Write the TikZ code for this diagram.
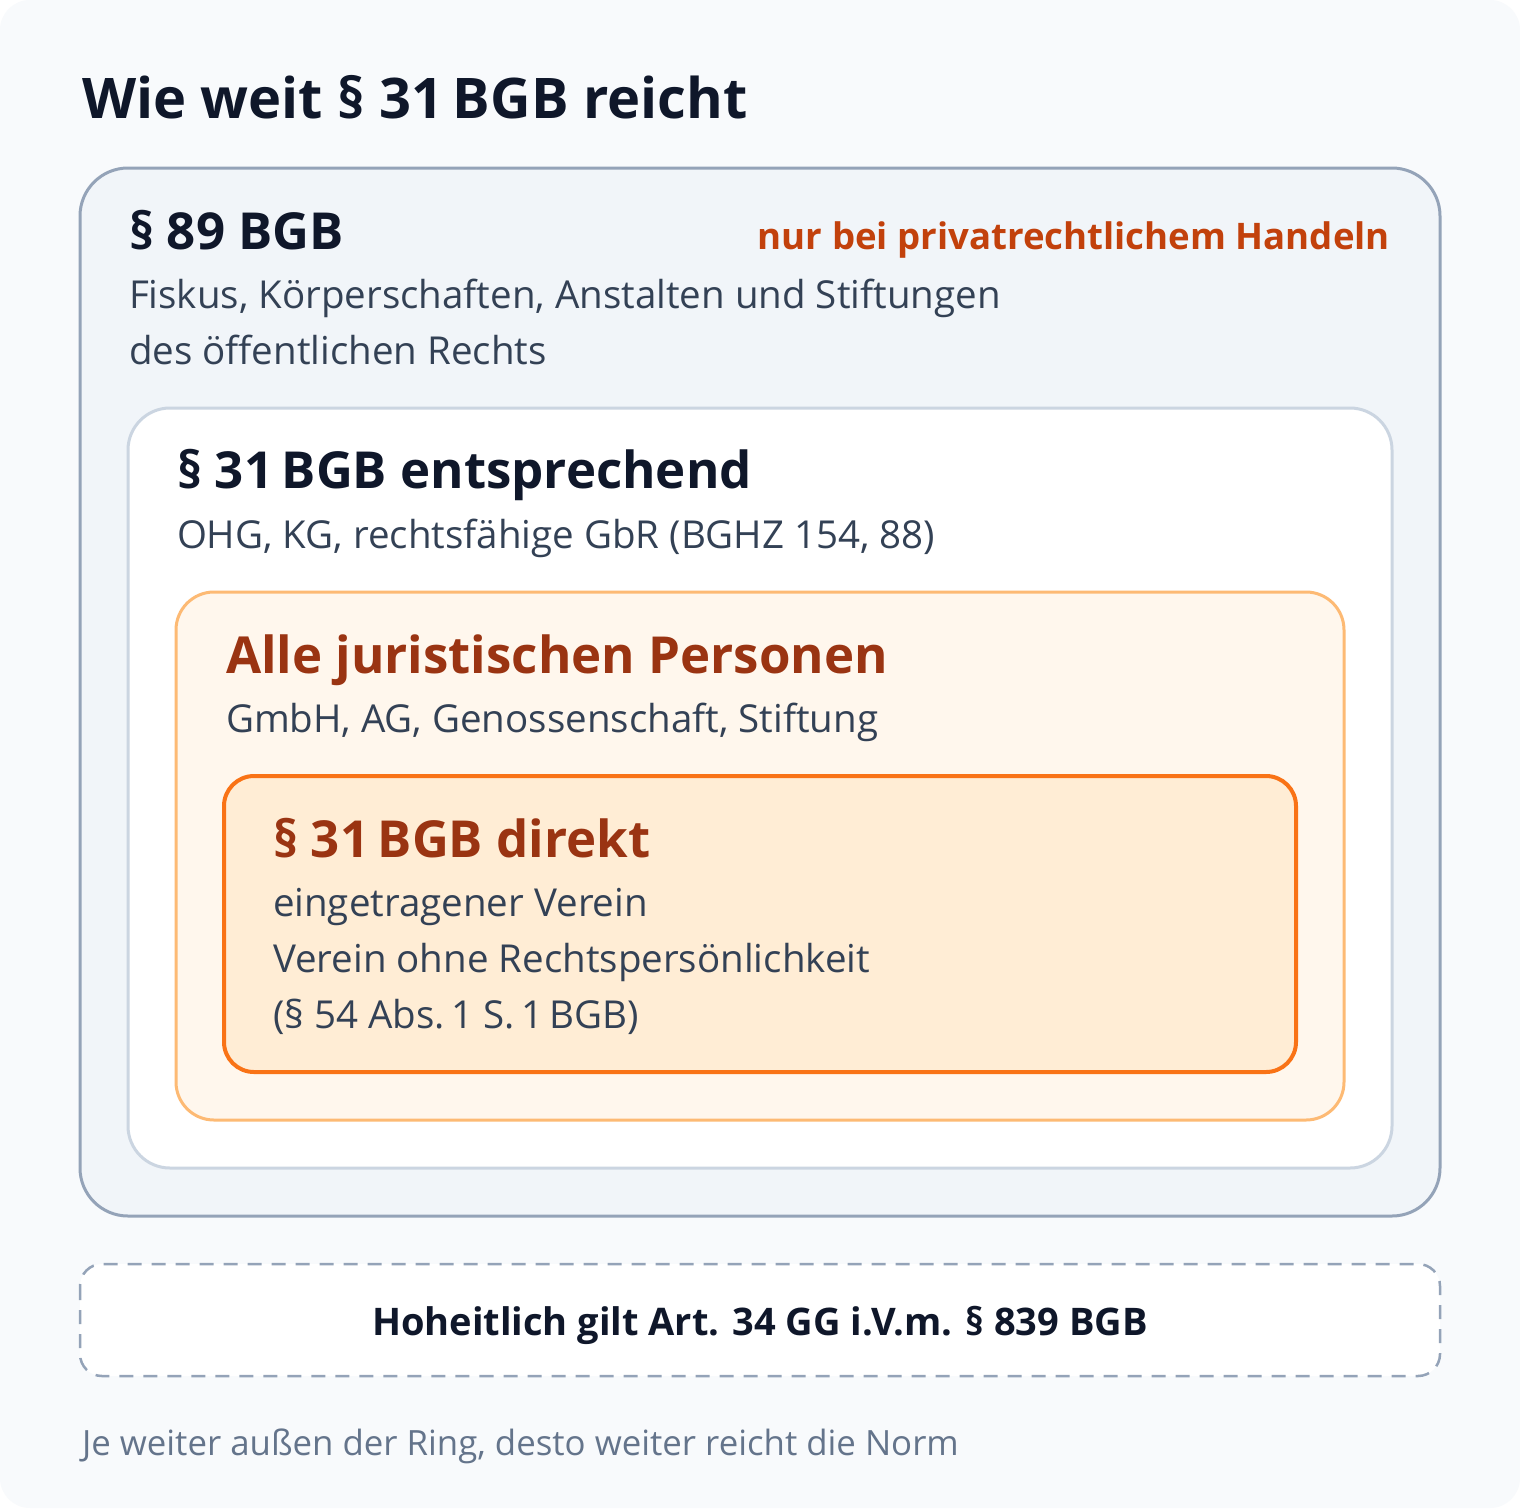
\documentclass[tikz,border=0pt]{standalone}
\usepackage{fontspec}
\setmainfont{Open Sans}
\definecolor{pagebg}{HTML}{F8FAFC}
\definecolor{slatefill}{HTML}{F1F5F9}
\definecolor{slatefour}{HTML}{94A3B8}
\definecolor{slatethree}{HTML}{CBD5E1}
\definecolor{slatenine}{HTML}{0F172A}
\definecolor{slateseven}{HTML}{334155}
\definecolor{slatefive}{HTML}{64748B}
\definecolor{orfifty}{HTML}{FFF7ED}
\definecolor{orhundred}{HTML}{FFEDD5}
\definecolor{orthree}{HTML}{FDBA74}
\definecolor{orfive}{HTML}{F97316}
\definecolor{orseven}{HTML}{C2410C}
\definecolor{oreight}{HTML}{9A3412}
\newcommand{\fsz}[1]{\fontsize{#1}{#1}\selectfont}
\tikzset{
  txt/.style={anchor=base west, inner sep=0pt, outer sep=0pt},
  head/.style={txt, font=\fsz{51}\bfseries, text=slatenine},
  ohead/.style={txt, font=\fsz{51}\bfseries, text=oreight},
  body/.style={txt, font=\fsz{38.5}, text=slateseven},
  ring/.style={line width=3pt},
}
\begin{document}
\begin{tikzpicture}[x=1pt,y=-1pt]
\useasboundingbox (0,0) rectangle (1520,1508);
\fill[white] (0,0) rectangle (1520,1508);
\fill[pagebg, rounded corners=30pt] (0,0) rectangle (1520,1508);
% rings
\draw[ring, draw=slatefour, fill=slatefill, rounded corners=48pt] (80,168) rectangle (1440,1216);
\draw[ring, draw=slatethree, fill=white, rounded corners=42pt] (128,408) rectangle (1392,1168);
\draw[ring, draw=orthree, fill=orfifty, rounded corners=38pt] (176,592) rectangle (1344,1120);
\draw[line width=4pt, draw=orfive, fill=orhundred, rounded corners=30pt] (224,776) rectangle (1296,1072);
\draw[line width=2.5pt, draw=slatefour, fill=white, dash pattern=on 14pt off 10pt, rounded corners=22pt] (80,1264) rectangle (1440,1376);
% title
\node[txt, font=\fsz{56}\bfseries, text=slatenine] (title) at (82,118) {Wie weit § 31\,BGB reicht};
% ring 1
\node[head] (h89) at (129,249) {§ 89 BGB};
\node[txt, anchor=base east, font=\fsz{36.6}\bfseries, text=orseven] (priv) at (1390,249) {nur bei privatrechtlichem Handeln};
\node[body] (b89a) at (129,308) {Fiskus, Körperschaften, Anstalten und Stiftungen};
\node[body] (b89b) at (129,364) {des öffentlichen Rechts};
% ring 2
\node[head] (h31e) at (177,488) {§ 31\,BGB entsprechend};
\node[body] (b31e) at (177,548) {OHG, KG, rechtsfähige GbR (BGHZ 154, 88)};
% ring 3
\node[ohead] (hjp) at (226,673) {Alle juristischen Personen};
\node[body] (bjp) at (226,732) {GmbH, AG, Genossenschaft, Stiftung};
% ring 4
\node[ohead] (hdir) at (273,857) {§ 31\,BGB direkt};
\node[body] (bd1) at (273,916) {eingetragener Verein};
\node[body] (bd2) at (273,972) {Verein ohne Rechtspersönlichkeit};
\node[body] (bd3) at (273,1028) {(§ 54 Abs.\,1 S.\,1\,BGB)};
% dashed
\node[txt, anchor=base, font=\fsz{38}\bfseries, text=slatenine] (hoh) at (760,1335) {Hoheitlich gilt Art. 34 GG i.V.m. § 839 BGB};
% footer
\node[txt, font=\fsz{34.8}, text=slatefive] (foot) at (82,1455) {Je weiter außen der Ring, desto weiter reicht die Norm};
\end{tikzpicture}
\end{document}
